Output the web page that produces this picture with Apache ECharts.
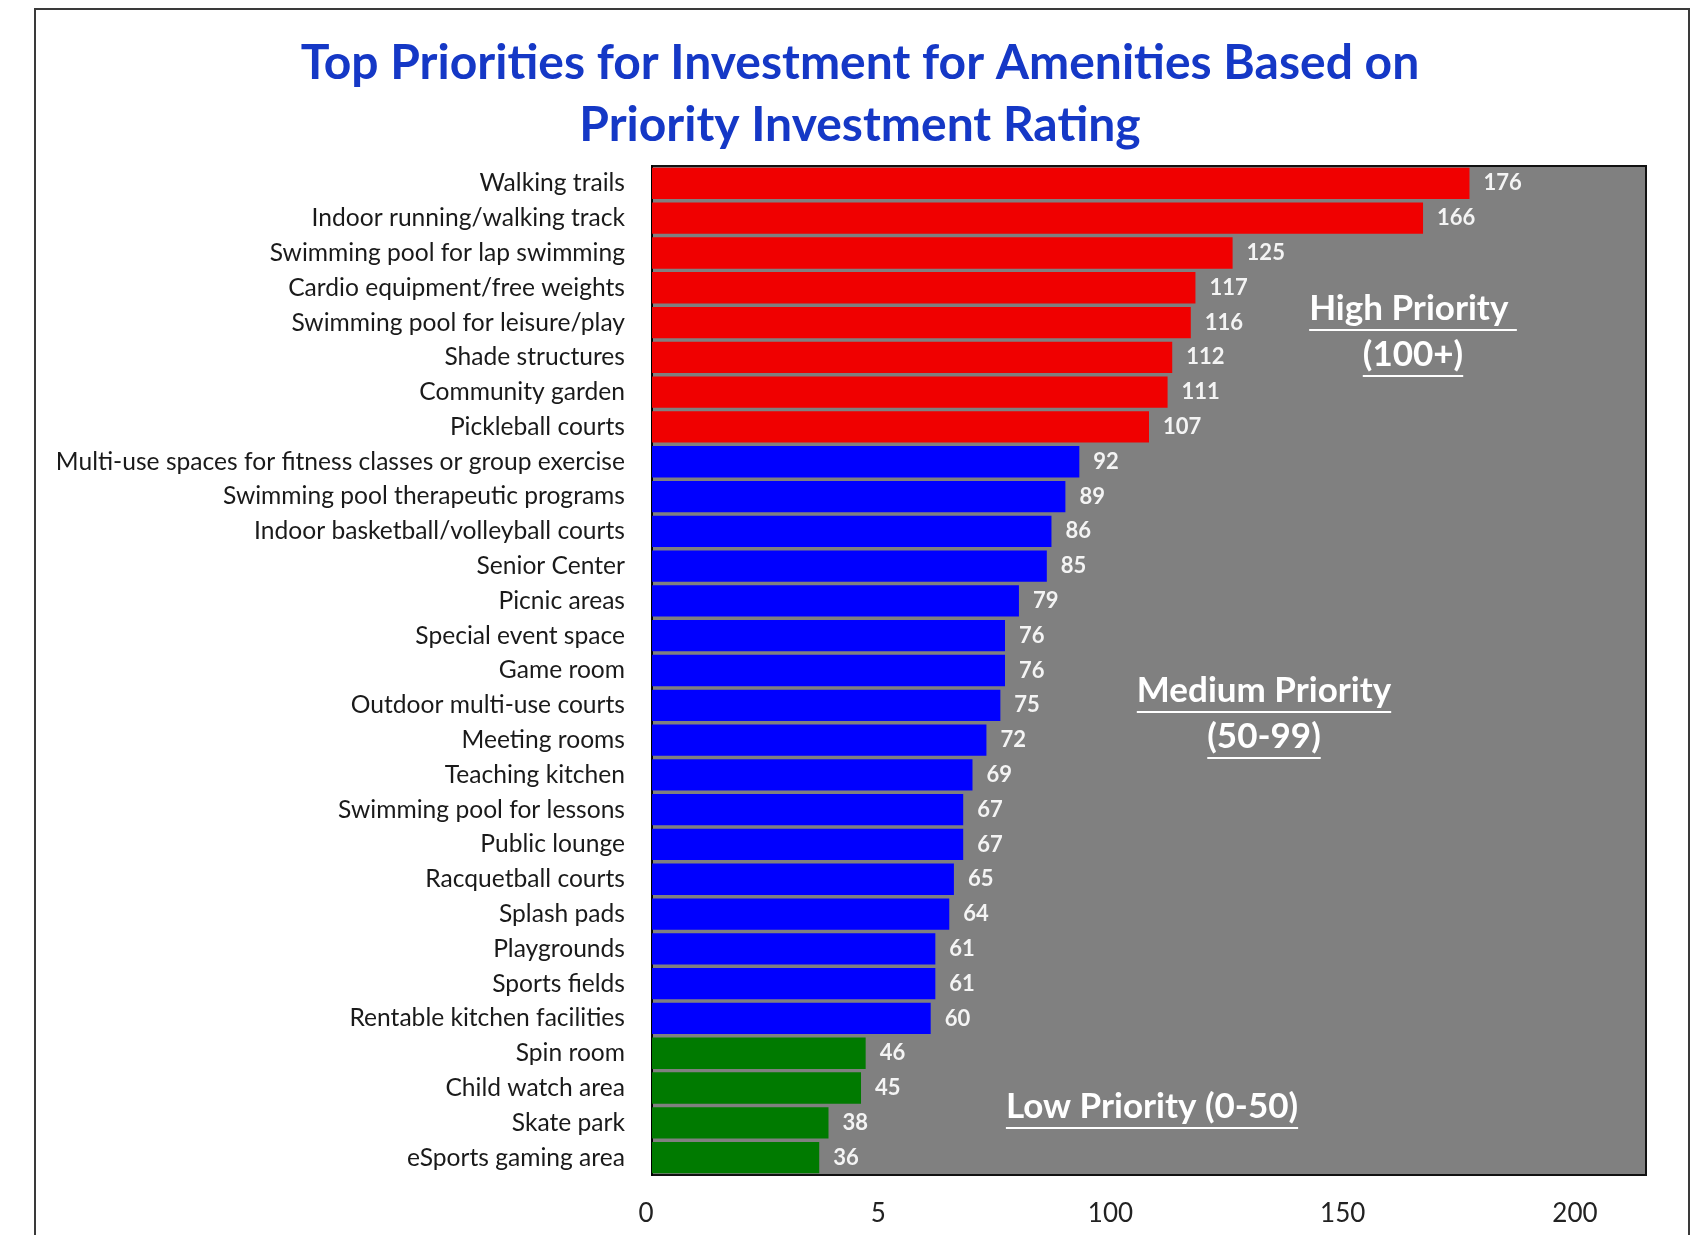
<!DOCTYPE html>
<html>
<head>
<meta charset="utf-8">
<script src="https://cdn.jsdelivr.net/npm/echarts@6/dist/echarts.min.js"></script>
<style>
html,body{margin:0;padding:0;background:#fff;}
#chart{width:1702px;height:1235px;}
</style>
</head>
<body>
<div id="chart"></div>
<script>
const titleLines = ['Top Priorities for Investment for Amenities Based on', 'Priority Investment Rating'];
const categories = [
  'Walking trails', 'Indoor running/walking track', 'Swimming pool for lap swimming',
  'Cardio equipment/free weights', 'Swimming pool for leisure/play', 'Shade structures',
  'Community garden', 'Pickleball courts', 'Multi-use spaces for fitness classes or group exercise',
  'Swimming pool therapeutic programs', 'Indoor basketball/volleyball courts', 'Senior Center',
  'Picnic areas', 'Special event space', 'Game room', 'Outdoor multi-use courts',
  'Meeting rooms', 'Teaching kitchen', 'Swimming pool for lessons', 'Public lounge',
  'Racquetball courts', 'Splash pads', 'Playgrounds', 'Sports fields',
  'Rentable kitchen facilities', 'Spin room', 'Child watch area', 'Skate park', 'eSports gaming area'
];
const values = [176, 166, 125, 117, 116, 112, 111, 107, 92, 89, 86, 85, 79, 76, 76, 75, 72, 69, 67, 67, 65, 64, 61, 61, 60, 46, 45, 38, 36];
const tickValues = [0, 50, 100, 150, 200];
const tickLabels = ['0', '5', '100', '150', '200'];
const priorityNotes = [
  { lines: ['High Priority ', '(100+)'] },
  { lines: ['Medium Priority', '(50-99)'] },
  { lines: ['Low Priority (0-50)'] }
];

const FONT = 'Lato, "Open Sans", sans-serif';
const RED = '#F00000', BLUE = '#0000FF', GREEN = '#007A00';

const chart = echarts.init(document.getElementById('chart'));

function measure(text, size, weight) {
  const c = document.createElement('canvas').getContext('2d');
  c.font = weight + ' ' + size + 'px ' + FONT;
  return c.measureText(text).width;
}

const noteStyle = { size: 35, weight: 'bold', lineH: 46 };
const notePos = [[1413, 309], [1264, 691], [1152, 1107]];
const graphics = [
  { type: 'rect', shape: { x: 35, y: 9, width: 1654, height: 1400 }, style: { fill: 'none', stroke: '#3a3a3a', lineWidth: 2 }, silent: true }
];
titleLines.forEach((t, i) => {
  graphics.push({ type: 'text', x: 860, y: 64 + i * 62,
    style: { text: t, font: 'bold 48px ' + FONT, fill: '#1538c6', align: 'center', verticalAlign: 'middle' } });
});
priorityNotes.forEach((n, k) => {
  const [cx, cy] = notePos[k];
  n.lines.forEach((line, i) => {
    const y = cy + i * noteStyle.lineH;
    const w = measure(line, noteStyle.size, noteStyle.weight);
    graphics.push({ type: 'text', x: cx, y: y, z: 10,
      style: { text: line, font: noteStyle.weight + ' ' + noteStyle.size + 'px ' + FONT, fill: '#ffffff',
        align: 'center', verticalAlign: 'middle' } });
    graphics.push({ type: 'line', z: 10, shape: { x1: cx - w / 2, y1: y + 21, x2: cx + w / 2, y2: y + 21 },
      style: { stroke: '#ffffff', lineWidth: 2 } });
  });
});

chart.setOption({
  animation: false,
  grid: { left: 652, right: 56, top: 166, bottom: 60, show: true, backgroundColor: '#808080', borderColor: '#111', borderWidth: 2, containLabel: false },
  xAxis: {
    type: 'value', min: 0, max: 214, interval: 50,
    axisLine: { show: false }, axisTick: { show: false }, splitLine: { show: false },
    axisLabel: { showMaxLabel: false, margin: 26, fontFamily: FONT, fontSize: 26, color: '#222', padding: [0, 12, 0, 0],
      formatter: v => { const i = tickValues.indexOf(v); return i >= 0 ? tickLabels[i] : ''; } }
  },
  yAxis: {
    type: 'category', data: categories, inverse: true,
    axisLine: { show: true, lineStyle: { color: '#000', width: 2 } }, axisTick: { show: false },
    axisLabel: { margin: 27, fontFamily: FONT, fontSize: 24.6, color: '#1a1a1a' }
  },
  series: [{
    type: 'bar', data: values, barCategoryGap: '10%',
    itemStyle: { color: p => p.value >= 100 ? RED : (p.value >= 50 ? BLUE : GREEN) },
    label: { show: true, position: 'right', distance: 14, fontFamily: FONT, fontSize: 22, fontWeight: 'bold', color: '#f4f4f4' }
  }],
  graphic: graphics
});
</script>
</body>
</html>
